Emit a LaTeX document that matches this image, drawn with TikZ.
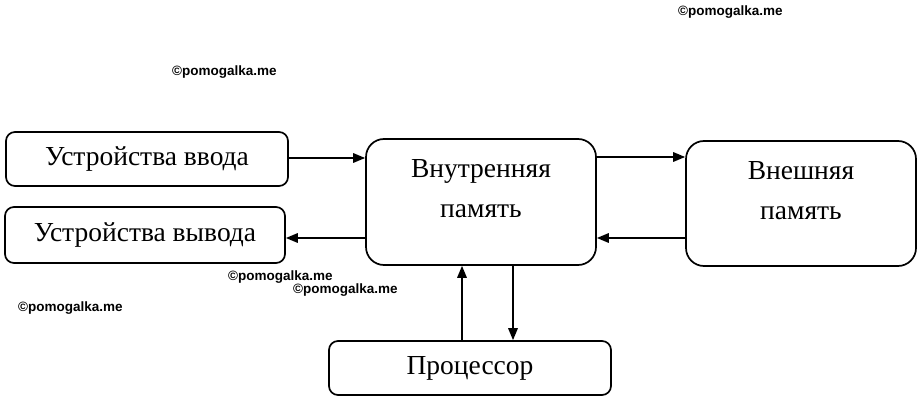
\documentclass[tikz,border=0pt]{standalone}
\usepackage{fontspec}
\setmainfont{Liberation Serif}
\newfontfamily\wmfont{Liberation Sans}
\usetikzlibrary{arrows.meta}
\begin{document}
\begin{tikzpicture}[x=1pt,y=-1pt,
  txt/.style={font=\fontsize{27.5}{40}\selectfont,align=center,inner sep=0pt},
  blk/.style={draw,line width=1.7pt,rounded corners=9pt,inner sep=0pt,txt},
  bigblk/.style={blk,rounded corners=18pt},
  conn/.style={line width=1.7pt,-{Triangle[length=12pt,width=9.5pt]}},
  wm/.style={font=\wmfont\bfseries\fontsize{13.5}{15}\selectfont,inner sep=0pt,anchor=west}]
\useasboundingbox (0,0) rectangle (924,398);
\node[blk,minimum width=282pt,minimum height=54pt] (in) at (147,159) {Устройства ввода};
\node[blk,minimum width=280pt,minimum height=56pt] (out) at (145,235) {Устройства вывода};
\node[bigblk,minimum width=230pt,minimum height=126pt] (mem) at (481,202) {};
\node[txt] (memt) at (481,189) {Внутренняя\\память};
\node[bigblk,minimum width=230pt,minimum height=125pt] (ext) at (801,203.5) {};
\node[txt] (extt) at (801,191) {Внешняя\\память};
\node[blk,minimum width=282pt,minimum height=54pt] (cpu) at (470,368) {Процессор};
\draw[conn] (in.east |- 0,158) -- (mem.west |- 0,158);
\draw[conn] (mem.west |- 0,238) -- (out.east |- 0,238);
\draw[conn] (mem.east |- 0,157) -- (ext.west |- 0,157);
\draw[conn] (ext.west |- 0,238) -- (mem.east |- 0,238);
\draw[conn] (cpu.north -| 462,0) -- (mem.south -| 462,0);
\draw[conn] (mem.south -| 513,0) -- (cpu.north -| 513,0);
\node[wm] (w1) at (678,12) {©pomogalka.me};
\node[wm] (w2) at (172,72) {©pomogalka.me};
\node[wm] (w3) at (228,277) {©pomogalka.me};
\node[wm] (w4) at (293,290) {©pomogalka.me};
\node[wm] (w5) at (18,308) {©pomogalka.me};
\end{tikzpicture}
\end{document}
